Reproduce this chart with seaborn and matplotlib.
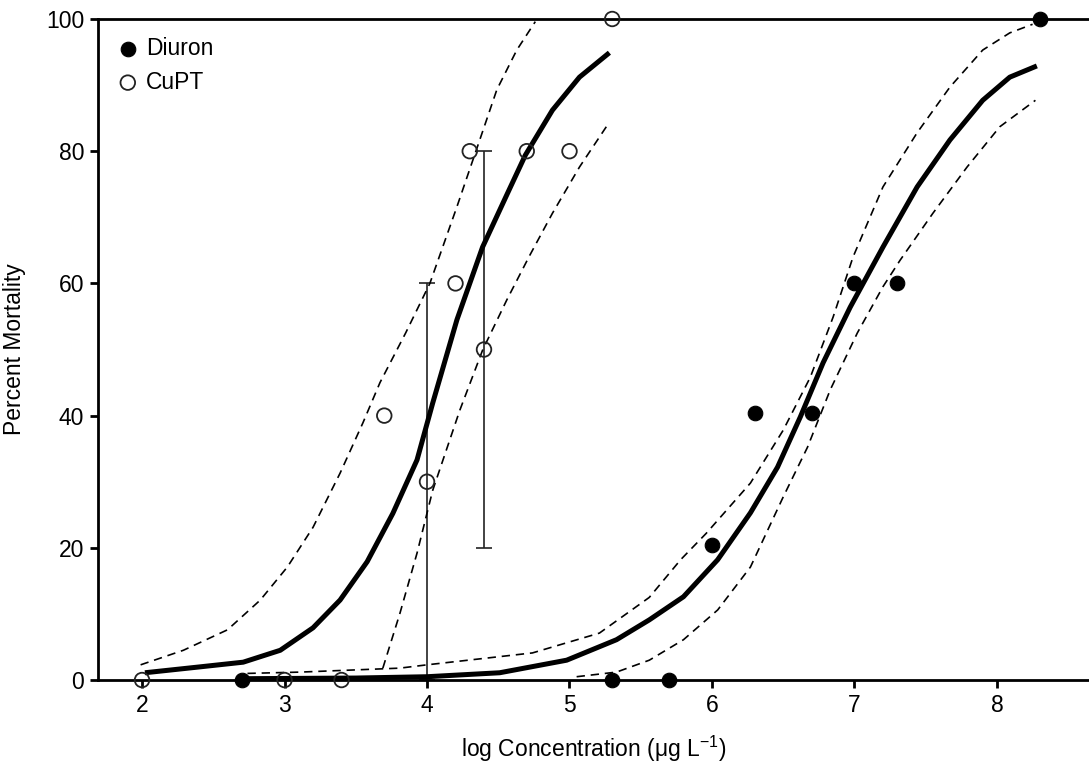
import matplotlib
matplotlib.use("Agg")
import matplotlib.pyplot as plt
import seaborn as sns
import numpy as np
import pandas as pd

# ---- data ----
diuron_x = [2.7, 5.3, 5.7, 6.0, 6.3, 6.7, 7.0, 7.3, 8.3]
diuron_y = [0, 0, 0, 20.4, 40.4, 40.4, 60, 60, 100]

cupt_x = [2.0, 3.0, 3.4, 3.7, 4.0, 4.2, 4.3, 4.4, 4.7, 5.0, 5.3]
cupt_y = [0, 0, 0, 40, 30, 60, 80, 50, 80, 80, 100]

err_x = [4.0, 4.4]
err_y = [30, 50]
err_sd = [30, 30]

cupt_fit_x = [2.02, 2.41, 2.71, 2.97, 3.20, 3.39, 3.58, 3.76, 3.93, 4.04, 4.21, 4.39, 4.56, 4.69, 4.88, 5.07, 5.28]
cupt_fit_y = [1.1, 2.0, 2.7, 4.5, 7.9, 12.1, 17.9, 25.2, 33.3, 41.9, 54.5, 65.5, 73.4, 79.4, 86.2, 91.2, 94.9]

cupt_up_x = [1.99, 2.29, 2.60, 2.83, 3.02, 3.20, 3.39, 3.55, 3.67, 3.85, 4.02, 4.21, 4.37, 4.49, 4.63, 4.76]
cupt_up_y = [2.3, 4.5, 7.6, 12.1, 17.1, 23.1, 31.3, 38.9, 45.0, 52.5, 60.0, 71.6, 81.7, 89.3, 95.3, 99.6]

cupt_lo_x = [3.69, 3.81, 3.93, 4.04, 4.23, 4.39, 4.56, 4.72, 4.88, 5.07, 5.28]
cupt_lo_y = [1.8, 10.1, 19.2, 28.7, 40.8, 49.9, 57.5, 64.2, 70.6, 77.6, 84.4]

diuron_fit_x = [2.71, 3.5, 4.0, 4.51, 4.98, 5.33, 5.56, 5.80, 6.04, 6.27, 6.46, 6.62, 6.78, 6.97, 7.20, 7.44, 7.67, 7.90, 8.09, 8.28]
diuron_fit_y = [0.2, 0.3, 0.5, 1.1, 3.0, 6.1, 9.1, 12.6, 18.2, 25.3, 32.2, 39.8, 48.0, 56.4, 65.5, 74.6, 81.7, 87.7, 91.2, 92.9]

diuron_up_x = [2.74, 3.11, 3.81, 4.0, 4.74, 5.21, 5.56, 5.78, 5.96, 6.27, 6.50, 6.69, 6.85, 6.99, 7.20, 7.44, 7.67, 7.90, 8.09, 8.25]
diuron_up_y = [1.0, 1.2, 1.8, 2.3, 4.1, 7.1, 12.5, 18.2, 22.2, 29.8, 37.8, 45.8, 54.9, 64.0, 74.6, 82.8, 89.7, 95.3, 97.9, 99.2]

diuron_lo_x = [5.05, 5.33, 5.56, 5.80, 6.04, 6.27, 6.50, 6.67, 6.83, 7.02, 7.20, 7.32, 7.55, 7.79, 8.02, 8.27]
diuron_lo_y = [0.5, 1.2, 3.0, 6.1, 10.6, 17.1, 27.7, 35.2, 43.9, 52.5, 59.5, 63.5, 70.6, 77.6, 83.7, 87.7]

y_ticks = [0, 20, 40, 60, 80, 100]
x_ticks = [2, 3, 4, 5, 6, 7, 8]

# ---- style ----
sns.set_theme(style="white")
plt.rcParams["font.family"] = ["Liberation Sans", "DejaVu Sans"]
plt.rcParams["mathtext.fontset"] = "custom"
plt.rcParams["mathtext.rm"] = "Liberation Sans"
plt.rcParams["mathtext.it"] = "Liberation Sans:italic"
for k in ["text.color", "axes.labelcolor", "xtick.color", "ytick.color"]:
    plt.rcParams[k] = "black"

fig = plt.figure(figsize=(10.89, 7.69), dpi=100)
ax = fig.add_axes([0.09, 0.1157, 0.91, 0.8596])

# fitted curves
for fx, fy in [(cupt_fit_x, cupt_fit_y), (diuron_fit_x, diuron_fit_y)]:
    sns.lineplot(x=fx, y=fy, ax=ax, color="black", linewidth=3.6,
                 sort=False, estimator=None, zorder=3,
                 solid_joinstyle="round", solid_capstyle="butt")
for bx, by in [(cupt_up_x, cupt_up_y), (cupt_lo_x, cupt_lo_y),
               (diuron_up_x, diuron_up_y), (diuron_lo_x, diuron_lo_y)]:
    sns.lineplot(x=bx, y=by, ax=ax, color="black", linewidth=1.2,
                 sort=False, estimator=None, zorder=3, dashes=False,
                 linestyle=(0, (5, 3.5)), dash_joinstyle="round")

# error bars
ax.errorbar(err_x, err_y, yerr=err_sd, fmt="none", ecolor="#222222",
            elinewidth=1.2, capsize=6, capthick=1.2, zorder=2)

# data points
sns.scatterplot(x=diuron_x, y=diuron_y, ax=ax, color="black", s=110,
                edgecolor="black", linewidth=0.8, label="Diuron",
                zorder=5, clip_on=False)
sns.scatterplot(x=cupt_x, y=cupt_y, ax=ax, facecolor="none", s=110,
                edgecolor="#222222", linewidth=1.3, label="CuPT",
                zorder=5, clip_on=False)

ax.set_xlim(1.691, 8.646)
ax.set_ylim(0, 100)
ax.set_xticks(x_ticks)
ax.set_yticks(y_ticks)
ax.set_xticklabels([str(t) for t in x_ticks])
ax.set_yticklabels([str(t) for t in y_ticks])

for s in ["left", "bottom", "top"]:
    ax.spines[s].set_visible(True)
    ax.spines[s].set_linewidth(2.0)
    ax.spines[s].set_color("black")
ax.spines["right"].set_visible(False)

ax.tick_params(axis="both", which="major", direction="out", length=6,
               width=2.0, color="black", labelsize=16.5, pad=4,
               bottom=True, left=True, top=False, right=False)
ax.grid(False)

ax.set_xlabel("log Concentration (μg L$^{-1}$)", fontsize=16.5, labelpad=12)
ax.set_ylabel("Percent Mortality", fontsize=16.5, labelpad=14)

leg = ax.legend(loc="upper left", bbox_to_anchor=(0.0, 1.0), frameon=False,
                fontsize=16.5, handletextpad=0.3, borderaxespad=0.4,
                labelspacing=0.45, handlelength=1.0)

fig.savefig("out.png", dpi=100)
